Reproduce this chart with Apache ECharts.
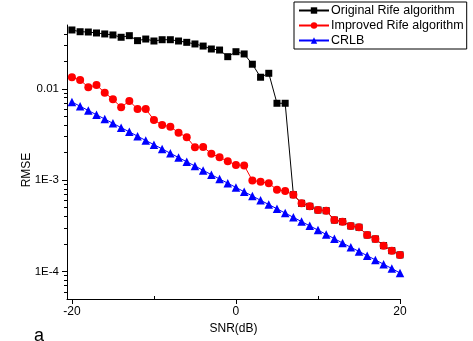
<!DOCTYPE html>
<html>
<head>
<meta charset="utf-8">
<script src="https://cdn.jsdelivr.net/npm/echarts@6/dist/echarts.min.js"></script>
<style>html,body{margin:0;padding:0;background:#fff}#c{width:473px;height:341px}</style>
</head>
<body>
<div id="c"></div>
<script>
const snr = [-20,-19,-18,-17,-16,-15,-14,-13,-12,-11,-10,-9,-8,-7,-6,-5,-4,-3,-2,-1,0,1,2,3,4,5,6,7,8,9,10,11,12,13,14,15,16,17,18,19,20];
const originalRife = [0.0441,0.0422,0.0419,0.0409,0.0399,0.0389,0.0367,0.0382,0.0337,0.0351,0.0334,0.0345,0.0345,0.0334,0.0323,0.0310,0.0294,0.0273,0.0266,0.0225,0.0255,0.0241,0.0186,0.0134,0.0148,0.00695,0.00695,0.000693,0.000558,0.000517,0.000471,0.000463,0.000366,0.000351,0.000315,0.000305,0.000251,0.000227,0.000192,0.000169,0.000152];
const improvedRife = [0.01338,0.0125,0.0104,0.01101,0.00907,0.00768,0.00628,0.00736,0.00602,0.00602,0.00456,0.00402,0.00385,0.00331,0.00295,0.00229,0.00231,0.00195,0.00178,0.00161,0.00147,0.00145,0.000992,0.000962,0.000924,0.000786,0.000761,0.000693,0.000558,0.000517,0.000471,0.000463,0.000366,0.000351,0.000315,0.000305,0.000251,0.000227,0.000192,0.000169,0.000152];
const crlb = [0.00718,0.00645,0.00579,0.0052,0.00467,0.00419,0.00376,0.00338,0.00303,0.00272,0.00245,0.0022,0.00197,0.00177,0.00159,0.00143,0.00128,0.00115,0.00103,0.000927,0.000832,0.000747,0.000671,0.000602,0.000541,0.000486,0.000436,0.000392,0.000352,0.000316,0.000284,0.000255,0.000229,0.000205,0.000184,0.000166,0.000149,0.000134,0.00012,0.000108,0.0000963];
const seriesNames = ['Original Rife algorithm','Improved Rife algorithm','CRLB'];
const xTicks = [-20,0,20];
const xMinorTicks = [-10,10];
const yTicks = [0.0001,0.001,0.01];
const yTickLabels = ['1E-4','1E-3','0.01'];
const yMinorTicks = [0.00006,0.00007,0.00008,0.00009,0.0002,0.0003,0.0004,0.0005,0.0006,0.0007,0.0008,0.0009,0.002,0.003,0.004,0.005,0.006,0.007,0.008,0.009,0.02,0.03,0.04];

const FONT = 'Liberation Sans';
const chart = echarts.init(document.getElementById('c'), null, {renderer:'canvas'});
const pair = arr => snr.map((x,i)=>[x, arr[i]]);
const yLabel = v => {
  for (let i=0;i<yTicks.length;i++) if (Math.abs(Math.log10(v)-Math.log10(yTicks[i]))<1e-6) return yTickLabels[i];
  return '';
};
chart.setOption({
  animation:false,
  backgroundColor:'#fff',
  textStyle:{fontFamily:FONT},
  grid:{left:67,right:73,top:25,bottom:42},
  legend:{
    orient:'vertical', left:294, top:2,
    borderColor:'#000', borderWidth:1, borderRadius:0,
    padding:[2,3,2,4], itemGap:2, itemWidth:30, itemHeight:8,
    textStyle:{fontFamily:FONT, fontSize:12.5, color:'#000', padding:[0,0,0,-3]},
    data:seriesNames
  },
  xAxis:[{
    type:'value', min:-20.6, max:20,
    name:'SNR(dB)', nameLocation:'middle', nameGap:21,
    nameTextStyle:{fontFamily:FONT, fontSize:12, color:'#000'},
    axisLine:{onZero:false, lineStyle:{color:'#000', width:1}},
    axisTick:{customValues:xTicks, length:5, lineStyle:{color:'#000'}},
    axisLabel:{customValues:xTicks, margin:7, fontFamily:FONT, fontSize:12, color:'#000'},
    splitLine:{show:false}
  },{
    type:'value', min:-20.6, max:20, position:'bottom',
    axisLine:{show:false, onZero:false},
    axisTick:{customValues:xMinorTicks, inside:true, length:3, lineStyle:{color:'#000'}},
    axisLabel:{show:false},
    splitLine:{show:false}
  }],
  yAxis:[{
    type:'log', min:0.00005, max:0.05, logBase:10,
    name:'RMSE', nameLocation:'middle', nameGap:34, nameRotate:90, nameMoveOverlap:false,
    nameTextStyle:{fontFamily:FONT, fontSize:12, color:'#000', padding:[0,16,0,0]},
    axisLine:{show:true, onZero:false, lineStyle:{color:'#000', width:1}},
    axisTick:{show:true, customValues:yTicks, length:5, lineStyle:{color:'#000'}},
    axisLabel:{customValues:yTicks, margin:8, fontFamily:FONT, fontSize:11.5, color:'#000', formatter:yLabel},
    splitLine:{show:false}
  },{
    type:'log', min:0.00005, max:0.05, logBase:10, position:'left', offset:0,
    axisLine:{show:false, onZero:false},
    axisTick:{show:true, customValues:yMinorTicks, length:3, lineStyle:{color:'#000'}},
    axisLabel:{show:false},
    splitLine:{show:false}
  }],
  graphic:[{type:'text', left:34, top:327, style:{text:'a', fontFamily:FONT, fontSize:18, fill:'#000'}}],
  series:[
    {name:seriesNames[0], type:'line', data:pair(originalRife), symbol:'rect', symbolSize:7,
     itemStyle:{color:'#000'}, lineStyle:{color:'#000', width:1}, z:2},
    {name:seriesNames[1], type:'line', data:pair(improvedRife), symbol:'circle', symbolSize:8,
     itemStyle:{color:'#ff0000'}, lineStyle:{color:'#ff0000', width:1}, z:3},
    {name:seriesNames[2], type:'line', data:pair(crlb), symbol:'triangle', symbolSize:8.5,
     itemStyle:{color:'#0000ff'}, lineStyle:{color:'#0000ff', width:1}, z:4}
  ]
});
</script>
</body>
</html>
